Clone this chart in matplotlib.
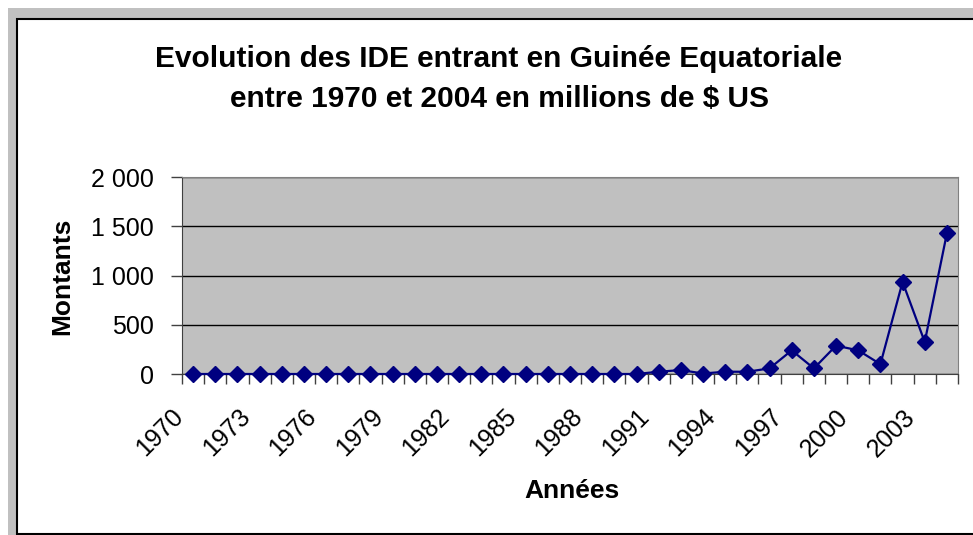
import matplotlib.pyplot as plt
from matplotlib.patches import Rectangle
from matplotlib.transforms import ScaledTranslation

# Données (millions de $ US)
annees = list(range(1970, 2005))
montants = [0, 0, 0, 0, 0, 0, 0, 0, 0, 0,
            0, 0, 0, 0, 0, 0, 0, 0, 0, 0,
            0, 23, 40, 5, 23, 23, 57, 240, 57, 288,
            240, 100, 935, 325, 1430]
yticks = [0, 500, 1000, 1500, 2000]
ytick_labels = ['0', '500', '1 000', '1 500', '2 000']

plt.rcParams['font.family'] = ['Liberation Sans', 'DejaVu Sans']

fig = plt.figure(figsize=(9.73, 5.35), dpi=100)
W, H = 973, 535

# cadre gris + zone blanche bordée de noir
fig.patches.append(Rectangle((8 / W, -0.1), 1.2, 1 - 8 / H + 0.1, transform=fig.transFigure,
                             facecolor='#c0c0c0', edgecolor='none', zorder=0))
fig.patches.append(Rectangle((17 / W, 1 / H), 1.2, 1 - 20 / H, transform=fig.transFigure,
                             facecolor='white', edgecolor='black', linewidth=1.5, zorder=1))

ax = fig.add_axes([182 / W, 1 - 374 / H, (958 - 182) / W, (374 - 177) / H])
ax.set_zorder(2)
ax.set_facecolor('#c0c0c0')

x = list(range(len(annees)))
ax.plot(x, montants, color='#000080', linewidth=1.6, marker='D', markersize=8,
        markerfacecolor='#000080', markeredgecolor='#000080', clip_on=False, zorder=3)

ax.set_xlim(-0.5, len(annees) - 0.5)
ax.set_ylim(0, 2000)
ax.set_yticks(yticks)
ax.set_yticklabels(ytick_labels, fontsize=18)
ax.yaxis.grid(True, color='black', linewidth=1)
ax.set_axisbelow(True)

ax.set_xticks(x[::3])
ax.set_xticklabels([str(a) for a in annees[::3]], fontsize=18, rotation=45,
                   ha='right', va='top', rotation_mode='anchor')
ax.set_xticks([i - 0.5 for i in range(len(annees) + 1)], minor=True)
ax.tick_params(axis='x', which='major', length=0, pad=4)
ax.tick_params(axis='x', which='minor', length=7, width=1, color='#404040', direction='out')
ax.tick_params(axis='y', length=8, width=1, color='#404040', direction='out', pad=12)

# décaler les étiquettes des années vers le bas-gauche comme dans Excel
decalage = ScaledTranslation(-0.22, -0.25, fig.dpi_scale_trans)
for lab in ax.get_xticklabels():
    lab.set_transform(lab.get_transform() + decalage)

for s in ['top', 'right']:
    ax.spines[s].set_color('#808080')
ax.spines['left'].set_color('#404040')
ax.spines['bottom'].set_color('#404040')

fig.text(62 / W, 1 - 276 / H, 'Montants', fontsize=19, fontweight='bold',
         rotation=90, ha='center', va='center')
fig.text(572 / W, 1 - 491 / H, 'Années', fontsize=19, fontweight='bold',
         ha='center', va='center')

fig.text(499 / W, 1 - 79 / H,
         'Evolution des IDE entrant en Guinée Equatoriale\nentre 1970 et 2004 en millions de $ US',
         fontsize=21.5, fontweight='bold', ha='center', va='center', linespacing=1.55)

fig.savefig('out.png', dpi=100)
